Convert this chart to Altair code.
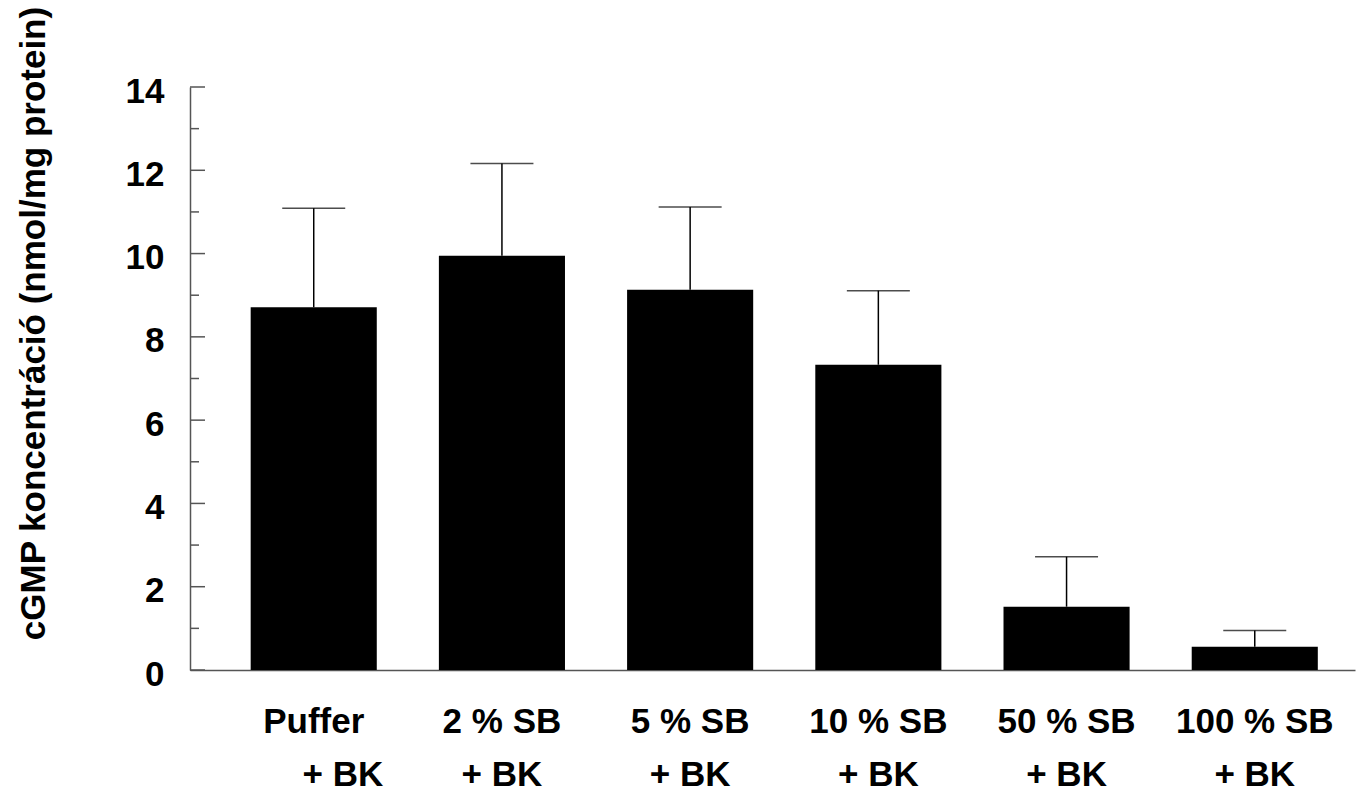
import altair as alt
import pandas as pd

FONT = "Liberation Sans"
FS = 35

groups = ["Puffer", "2 % SB", "5 % SB", "10 % SB", "50 % SB", "100 % SB"]
second_line = ["\u200b" + "\u00a0" * 6 + "+ BK", "+ BK", "+ BK", "+ BK", "+ BK", "+ BK"]
means = [8.71, 9.95, 9.13, 7.33, 1.52, 0.56]
sds = [2.38, 2.21, 1.99, 1.78, 1.20, 0.39]
major_ticks = [0, 2, 4, 6, 8, 10, 12, 14]
minor_ticks = [1, 3, 5, 7, 9, 11, 13]

labels = [f"{a}|{b}" for a, b in zip(groups, second_line)]
df = pd.DataFrame({
    "label": labels,
    "mean": means,
    "upper": [m + s for m, s in zip(means, sds)],
})
major_df = pd.DataFrame({"v": major_ticks})
minor_df = pd.DataFrame({"v": minor_ticks})

xscale = alt.Scale(paddingInner=0.33, paddingOuter=0.26, align=0.62)
yscale = alt.Scale(domain=[0, 14], nice=False, zero=True)
AX = "#555555"

x_enc = alt.X(
    "label:N", sort=None, scale=xscale,
    axis=alt.Axis(
        title=None, ticks=False, tickSize=0, domainColor=AX, domainWidth=1.5,
        labelAngle=0, labelFont=FONT, labelFontSize=FS, labelFontWeight="bold",
        labelColor="black", labelPadding=34, labelLineHeight=53,
        labelExpr="split(datum.label, '|')", labelBaseline="top",
        labelAlign="center", labelLimit=0, labelOverlap=False, labelFlush=False,
        grid=False,
    ),
)

bars = alt.Chart(df).mark_bar(color="black").encode(
    x=x_enc,
    y=alt.Y(
        "mean:Q", scale=yscale,
        axis=alt.Axis(
            values=major_ticks, ticks=False, tickSize=0, grid=False,
            domainColor=AX, domainWidth=1.5,
            labelFont=FONT, labelFontSize=FS, labelFontWeight="bold",
            labelColor="black", labelPadding=26, labelOffset=4,
            title="cGMP koncentráció (nmol/mg protein)",
            titleFont=FONT, titleFontSize=FS, titleFontWeight="bold",
            titleColor="black", titleX=-146, titleY=236,
            titleBaseline="alphabetic", titleAlign="center", titleAngle=270,
        ),
    ),
)

errs = alt.Chart(df).mark_rule(color="black", strokeWidth=1.5).encode(
    x=alt.X("label:N", sort=None),
    y=alt.Y("mean:Q"),
    y2="upper:Q",
)

caps = alt.Chart(df).mark_tick(color="black", thickness=1.5, size=63).encode(
    x=alt.X("label:N", sort=None),
    y=alt.Y("upper:Q"),
)

major = alt.Chart(major_df).mark_rule(color=AX, strokeWidth=1.5).encode(
    y=alt.Y("v:Q"),
    x=alt.value(0),
    x2=alt.value(15),
)
minor = alt.Chart(minor_df).mark_rule(color=AX, strokeWidth=1.5).encode(
    y=alt.Y("v:Q"),
    x=alt.value(0),
    x2=alt.value(9),
)

chart = alt.layer(bars, errs, caps, major, minor).properties(
    width=1165,
    height=583,
    autosize=alt.AutoSizeParams(type="none"),
    padding={"left": 182, "top": 79, "right": 2, "bottom": 121},
    background="white",
).configure_view(stroke=None)

chart.save("out.html", embed_options={"renderer": "svg", "actions": False})
